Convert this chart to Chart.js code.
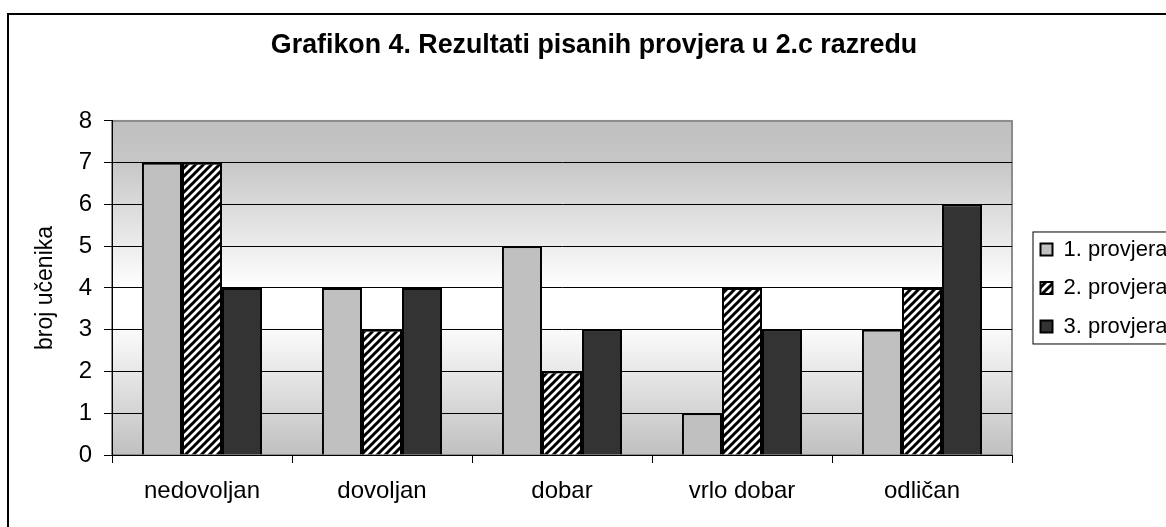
<!DOCTYPE html>
<html>
<head>
<meta charset="utf-8">
<script src="https://cdn.jsdelivr.net/npm/chart.js@4.4.1/dist/chart.umd.min.js"></script>
<style>
    html, body { margin: 0; padding: 0; background: #fff; }
    #wrap { width: 1166px; height: 527px; }
</style>
</head>
<body>
<div id="wrap"><canvas id="chart" width="1166" height="527"></canvas></div>
<script>
const categories = ['nedovoljan', 'dovoljan', 'dobar', 'vrlo dobar', 'odličan'];
const seriesNames = ['1. provjera', '2. provjera', '3. provjera'];
const provjera1 = [7, 4, 5, 1, 3];
const provjera2 = [7, 3, 2, 4, 4];
const provjera3 = [4, 4, 3, 3, 6];
const yMin = 0;
const yMax = 8;
const yStep = 1;

const FONT = '"Liberation Sans", Arial, sans-serif';

// diagonal hatch for the 2nd series
function makeHatch() {
    const s = 8;
    const c = document.createElement('canvas');
    c.width = s; c.height = s;
    const g = c.getContext('2d');
    g.fillStyle = '#fff';
    g.fillRect(0, 0, s, s);
    g.strokeStyle = '#000';
    g.lineWidth = 3;
    g.beginPath();
    g.moveTo(-1, s + 1); g.lineTo(s + 1, -1);
    g.moveTo(-2, 2); g.lineTo(2, -2);
    g.moveTo(s - 2, s + 2); g.lineTo(s + 2, s - 2);
    g.stroke();
    return g.createPattern(c, 'repeat');
}

// white page, outer frame, plot area gradient
const backdrop = {
    id: 'backdrop',
    beforeDraw(chart) {
        const { ctx, chartArea: a } = chart;
        ctx.save();
        ctx.fillStyle = '#fff';
        ctx.fillRect(0, 0, chart.width, chart.height);
        ctx.strokeStyle = '#000';
        ctx.lineWidth = 2;
        ctx.strokeRect(8, 14, chart.width + 20, chart.height + 20);
        const grad = ctx.createLinearGradient(0, a.top, 0, a.bottom);
        grad.addColorStop(0, '#c0c0c0');
        grad.addColorStop(0.12, '#c6c6c6');
        grad.addColorStop(0.5, '#ffffff');
        grad.addColorStop(0.6, '#ffffff');
        grad.addColorStop(1, '#c0c0c0');
        ctx.fillStyle = grad;
        ctx.fillRect(a.left, a.top, a.right - a.left, a.bottom - a.top);
        ctx.strokeStyle = '#8c8c8c';
        ctx.lineWidth = 2;
        ctx.strokeRect(a.left, a.top, a.right - a.left, a.bottom - a.top);
        ctx.restore();
    }
};

// nudge legend right and put a frame round it
const legendFrame = {
    id: 'legendFrame',
    afterLayout(chart) {
        chart.legend.left += 12;
        chart.legend.right += 12;
    },
    afterDraw(chart) {
        const boxes = chart.legend.legendHitBoxes;
        if (!boxes || !boxes.length) return;
        const first = boxes[0], last = boxes[boxes.length - 1];
        const ctx = chart.ctx;
        ctx.save();
        ctx.strokeStyle = '#000';
        ctx.lineWidth = 1;
        ctx.strokeRect(first.left - 7.5, first.top - 6.5, 200, last.top + last.height - first.top + 13);
        ctx.restore();
    }
};

const hatch = makeHatch();

new Chart(document.getElementById('chart'), {
    type: 'bar',
    data: {
        labels: categories,
        datasets: [
            { label: seriesNames[0], data: provjera1, backgroundColor: '#c0c0c0', borderColor: '#000', borderWidth: 2 },
            { label: seriesNames[1], data: provjera2, backgroundColor: hatch, borderColor: '#000', borderWidth: 2 },
            { label: seriesNames[2], data: provjera3, backgroundColor: '#333333', borderColor: '#000', borderWidth: 2 }
        ]
    },
    options: {
        responsive: false,
        animation: false,
        events: [],
        categoryPercentage: 0.667,
        barPercentage: 1,
        layout: { padding: { left: 30, right: 8, top: 0, bottom: 0 } },
        plugins: {
            title: {
                display: true,
                text: 'Grafikon 4. Rezultati pisanih provjera u 2.c razredu',
                color: '#000',
                font: { family: FONT, size: 26.8, weight: 'bold' },
                padding: { top: 30, bottom: 58.8 }
            },
            legend: {
                display: true,
                position: 'right',
                fullSize: false,
                maxWidth: 146,
                labels: {
                    color: '#000',
                    font: { family: FONT, size: 22 },
                    boxWidth: 12,
                    boxHeight: 12,
                    padding: 16.5
                }
            },
            tooltip: { enabled: false }
        },
        scales: {
            x: {
                grid: { display: true, drawOnChartArea: false, drawTicks: true, tickLength: 8, color: '#000', offset: true },
                border: { display: true, color: '#000', width: 1 },
                ticks: { color: '#000', font: { family: FONT, size: 24 }, padding: 14, maxRotation: 0 },
                afterFit(scale) { scale.height = 72; }
            },
            y: {
                min: yMin,
                max: yMax,
                ticks: { stepSize: yStep, color: '#000', font: { family: FONT, size: 24 }, padding: 12 },
                grid: {
                    color: ctx => (ctx.tick && ctx.tick.value === yMax) ? '#8c8c8c' : '#000',
                    tickColor: '#000',
                    tickLength: 8,
                    lineWidth: 1
                },
                border: { display: true, color: '#000', width: 1 },
                title: {
                    display: true,
                    text: 'broj učenika',
                    color: '#000',
                    font: { family: FONT, size: 23 },
                    padding: { top: 2, bottom: 0 }
                },
                afterFit(scale) { scale.width = 82; }
            }
        }
    },
    plugins: [backdrop, legendFrame]
});
</script>
</body>
</html>
